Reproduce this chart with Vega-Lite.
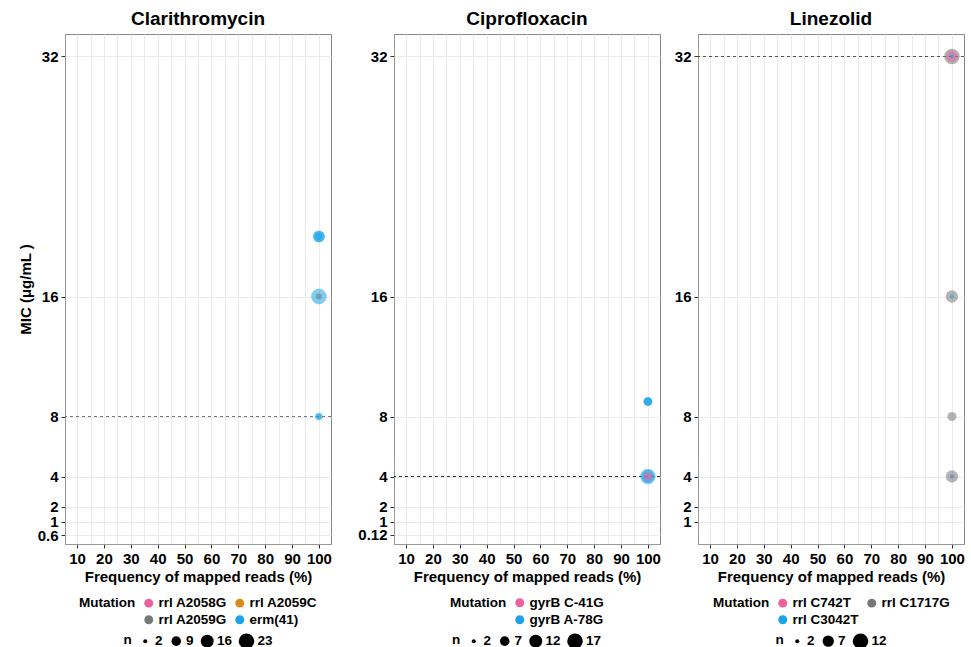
{
  "$schema": "https://vega.github.io/schema/vega-lite/v6.json",
  "padding": {"left": 17, "top": 9, "right": 3, "bottom": 0},
  "spacing": 18,
  "background": "white",
  "config": {
    "font": "Liberation Sans",
    "view": {"stroke": "#888888", "strokeWidth": 1},
    "title": {"font": "Liberation Sans", "fontSize": 19, "fontWeight": "bold", "color": "black", "offset": 5, "anchor": "middle"},
    "axis": {
      "labelFont": "Liberation Sans", "labelFontSize": 15, "labelFontWeight": "bold", "labelColor": "black",
      "titleFont": "Liberation Sans", "titleFontSize": 15, "titleFontWeight": "bold", "titleColor": "black",
      "tickColor": "#333333", "tickSize": 4, "labelPadding": 3, "domainColor": "#999999",
      "gridColor": "#ebebeb", "gridWidth": 1, "labelOverlap": false, "labelFlush": false, "labelBound": false
    },
    "legend": {
      "orient": "bottom", "direction": "horizontal", "titleOrient": "left", "titleAnchor": "start", "titleBaseline": "top",
      "labelFont": "Liberation Sans", "labelFontSize": 13.5, "labelFontWeight": "bold", "labelColor": "black",
      "titleFont": "Liberation Sans", "titleFontSize": 13.5, "titleFontWeight": "bold", "titleColor": "black",
      "symbolOpacity": 1, "symbolStrokeWidth": 0, "offset": 12, "padding": 0, "rowPadding": 2,
      "columnPadding": 6, "labelOffset": 3, "titlePadding": 6,
      "layout": {"bottom": {"anchor": "middle", "direction": "vertical", "center": true, "margin": 6}}
    }
  },
  "resolve": {
    "scale": {"x": "independent", "y": "independent", "color": "independent", "size": "independent"},
    "legend": {"color": "independent", "size": "independent"}
  },
  "hconcat": [
    {
      "title": "Clarithromycin",
      "width": 266, "height": 510,
      "layer": [
        {
          "data": {"values": [{"mic": 8}]},
          "mark": {"type": "rule", "strokeDash": [3, 3], "color": "#777777", "strokeWidth": 1},
          "encoding": {"y": {"field": "mic", "type": "quantitative", "scale": {"domain": [-0.5, 33.5], "nice": false, "zero": false}}}
        },
        {
          "data": {"values": [
            {"mutation": "erm(41)", "freq": 100, "mic": 20, "n": 14},
            {"mutation": "erm(41)", "freq": 100, "mic": 20, "n": 12},
            {"mutation": "erm(41)", "freq": 100, "mic": 20, "n": 5},
            {"mutation": "erm(41)", "freq": 100, "mic": 16, "n": 23},
            {"mutation": "rrl A2059G", "freq": 100, "mic": 16, "n": 4},
            {"mutation": "erm(41)", "freq": 100, "mic": 8, "n": 6},
            {"mutation": "erm(41)", "freq": 100, "mic": 8, "n": 3}
          ]},
          "mark": {"type": "circle", "opacity": 0.55},
          "encoding": {
            "x": {"field": "freq", "type": "quantitative", "scale": {"domain": [5.5, 104.5], "nice": false, "zero": false},
              "axis": {"title": "Frequency of mapped reads (%)", "values": [10,15,20,25,30,35,40,45,50,55,60,65,70,75,80,85,90,95,100],
                "labelExpr": "datum.value % 10 === 0 ? datum.label : ''", "titlePadding": 3,
                "tickOpacity": {"condition": {"test": "datum.value % 10 !== 0", "value": 0}, "value": 1}}},
            "y": {"field": "mic", "type": "quantitative", "scale": {"domain": [-0.5, 33.5], "nice": false, "zero": false},
              "axis": {"title": "MIC (μg/mL )", "values": [0.1, 1, 2, 4, 8, 16, 32], "labelExpr": "datum.value < 0.5 ? '0.6' : datum.label",
                "minExtent": 27, "maxExtent": 27, "titlePadding": 5}},
            "color": {"field": "mutation", "type": "nominal", "title": "Mutation",
              "scale": {"domain": ["rrl A2058G", "rrl A2059C", "rrl A2059G", "erm(41)"], "range": ["#F0609E", "#D98A1A", "#777777", "#1AA3E8"]},
              "legend": {"columns": 2, "symbolType": "circle", "symbolSize": 80}},
            "size": {"field": "n", "type": "quantitative", "title": "n",
              "scale": {"domain": [2, 23], "range": [16, 240], "zero": false},
              "legend": {"values": [2, 9, 16, 23], "symbolFillColor": "black", "symbolType": "circle"}}
          }
        }
      ]
    },
    {
      "spacing": 12,
      "resolve": {
        "scale": {"x": "independent", "y": "independent", "color": "independent", "size": "independent"},
        "legend": {"color": "independent", "size": "independent"}
      },
      "hconcat": [
        {
          "title": "Ciprofloxacin",
          "width": 266, "height": 510,
          "layer": [
            {
              "data": {"values": [{"mic": 4}]},
              "mark": {"type": "rule", "strokeDash": [3, 3], "color": "#333333", "strokeWidth": 1},
              "encoding": {"y": {"field": "mic", "type": "quantitative", "scale": {"domain": [-0.5, 33.5], "nice": false, "zero": false}}}
            },
            {
              "data": {"values": [
                {"mutation": "gyrB A-78G", "freq": 100, "mic": 9, "n": 6},
                {"mutation": "gyrB A-78G", "freq": 100, "mic": 9, "n": 6},
                {"mutation": "gyrB A-78G", "freq": 100, "mic": 9, "n": 5},
                {"mutation": "gyrB A-78G", "freq": 100, "mic": 4, "n": 17},
                {"mutation": "gyrB A-78G", "freq": 100, "mic": 4, "n": 12},
                {"mutation": "gyrB C-41G", "freq": 100, "mic": 4, "n": 7}
              ]},
              "mark": {"type": "circle", "opacity": 0.55},
              "encoding": {
                "x": {"field": "freq", "type": "quantitative", "scale": {"domain": [5.5, 104.5], "nice": false, "zero": false},
                  "axis": {"title": "Frequency of mapped reads (%)", "values": [10,15,20,25,30,35,40,45,50,55,60,65,70,75,80,85,90,95,100],
                    "labelExpr": "datum.value % 10 === 0 ? datum.label : ''", "titlePadding": 3,
                    "tickOpacity": {"condition": {"test": "datum.value % 10 !== 0", "value": 0}, "value": 1}}},
                "y": {"field": "mic", "type": "quantitative", "scale": {"domain": [-0.5, 33.5], "nice": false, "zero": false},
                  "axis": {"title": null, "values": [0.12, 1, 2, 4, 8, 16, 32], "labelExpr": "datum.value < 0.5 ? '0.12' : datum.label",
                    "minExtent": 43, "maxExtent": 43}},
                "color": {"field": "mutation", "type": "nominal", "title": "Mutation",
                  "scale": {"domain": ["gyrB C-41G", "gyrB A-78G"], "range": ["#F0609E", "#1AA3E8"]},
                  "legend": {"columns": 1, "symbolType": "circle", "symbolSize": 80}},
                "size": {"field": "n", "type": "quantitative", "title": "n",
                  "scale": {"domain": [2, 17], "range": [16, 240], "zero": false},
                  "legend": {"values": [2, 7, 12, 17], "symbolFillColor": "black", "symbolType": "circle"}}
              }
            }
          ]
        },
        {
          "title": "Linezolid",
          "width": 266, "height": 510,
          "layer": [
            {
              "data": {"values": [{"mic": 32}]},
              "mark": {"type": "rule", "strokeDash": [3, 3], "color": "#555555", "strokeWidth": 1},
              "encoding": {"y": {"field": "mic", "type": "quantitative", "scale": {"domain": [-0.5, 33.5], "nice": false, "zero": false}}}
            },
            {
              "data": {"values": [
                {"mutation": "rrl C1717G", "freq": 100, "mic": 32, "n": 12},
                {"mutation": "rrl C742T", "freq": 100, "mic": 32, "n": 7},
                {"mutation": "rrl C3042T", "freq": 100, "mic": 32, "n": 2},
                {"mutation": "rrl C1717G", "freq": 100, "mic": 16, "n": 8},
                {"mutation": "rrl C3042T", "freq": 100, "mic": 16, "n": 2},
                {"mutation": "rrl C1717G", "freq": 100, "mic": 8, "n": 5},
                {"mutation": "rrl C1717G", "freq": 100, "mic": 4, "n": 8},
                {"mutation": "rrl C742T", "freq": 100, "mic": 4, "n": 2},
                {"mutation": "rrl C3042T", "freq": 100, "mic": 4, "n": 2}
              ]},
              "mark": {"type": "circle", "opacity": 0.55},
              "encoding": {
                "x": {"field": "freq", "type": "quantitative", "scale": {"domain": [5.5, 104.5], "nice": false, "zero": false},
                  "axis": {"title": "Frequency of mapped reads (%)", "values": [10,15,20,25,30,35,40,45,50,55,60,65,70,75,80,85,90,95,100],
                    "labelExpr": "datum.value % 10 === 0 ? datum.label : ''", "titlePadding": 3,
                    "tickOpacity": {"condition": {"test": "datum.value % 10 !== 0", "value": 0}, "value": 1}}},
                "y": {"field": "mic", "type": "quantitative", "scale": {"domain": [-0.5, 33.5], "nice": false, "zero": false},
                  "axis": {"title": null, "values": [1, 2, 4, 8, 16, 32], "minExtent": 18, "maxExtent": 18}},
                "color": {"field": "mutation", "type": "nominal", "title": "Mutation",
                  "scale": {"domain": ["rrl C742T", "rrl C1717G", "rrl C3042T"], "range": ["#F0609E", "#777777", "#1AA3E8"]},
                  "legend": {"columns": 2, "symbolType": "circle", "symbolSize": 80}},
                "size": {"field": "n", "type": "quantitative", "title": "n",
                  "scale": {"domain": [2, 12], "range": [16, 240], "zero": false},
                  "legend": {"values": [2, 7, 12], "symbolFillColor": "black", "symbolType": "circle"}}
              }
            }
          ]
        }
      ]
    }
  ]
}
